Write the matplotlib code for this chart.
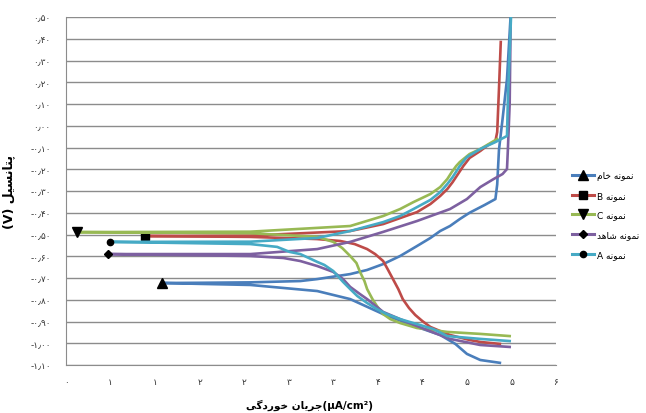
import matplotlib
matplotlib.use("Agg")
import matplotlib.pyplot as plt
from matplotlib.lines import Line2D

# --- data ---
series_names = ["نمونه خام", "نمونه B", "نمونه C", "نمونه شاهد", "نمونه A"]
series_colors = ["#4A7EBB", "#BE4B48", "#98B954", "#7D60A0", "#46AAC5"]
series_markers = ["^", "s", "v", "D", "o"]
marker_sizes = [7, 5.5, 7, 4.5, 4.5]

# each curve: cathodic end (bottom right) -> corrosion point (marker) -> anodic end
raw_x = [4.87, 4.65, 4.50, 4.37, 4.20, 3.94, 3.56, 3.19, 2.82, 2.07, 1.50, 1.08,
         1.50, 2.07, 2.63, 2.82, 3.19, 3.38, 3.56, 3.75, 3.94, 4.09, 4.20, 4.31, 4.42, 4.53,
         4.70, 4.82, 4.84, 4.86, 4.90, 4.95, 4.99]
raw_y = [-1.09, -1.077, -1.049, -1.003, -0.962, -0.925, -0.866, -0.797, -0.76, -0.732, -0.727, -0.723,
         -0.722, -0.72, -0.714, -0.705, -0.682, -0.663, -0.636, -0.599, -0.553, -0.516, -0.484, -0.461,
         -0.429, -0.40, -0.364, -0.337, -0.27, -0.11, 0.03, 0.215, 0.50]

b_x = [4.87, 4.65, 4.53, 4.31, 4.20, 4.09, 4.00, 3.92, 3.85, 3.78, 3.73, 3.67, 3.61, 3.56, 3.47,
       3.38, 3.24, 3.08, 2.82, 2.07, 0.887,
       2.07, 3.19, 3.56, 3.94, 4.09, 4.20, 4.28, 4.34, 4.40, 4.46, 4.53, 4.65, 4.74, 4.82,
       4.84, 4.86, 4.88]
b_y = [-1.003, -0.994, -0.985, -0.962, -0.944, -0.925, -0.898, -0.87, -0.838, -0.797, -0.751, -0.705,
       -0.659, -0.622, -0.590, -0.567, -0.544, -0.530, -0.521, -0.511, -0.507,
       -0.505, -0.484, -0.452, -0.397, -0.360, -0.323, -0.291, -0.259, -0.222, -0.185, -0.148,
       -0.116, -0.088, -0.07, -0.029, 0.17, 0.385]

c_x = [4.98, 4.65, 4.28, 3.94, 3.75, 3.64, 3.56, 3.49, 3.44, 3.38, 3.35, 3.30, 3.26, 3.19, 3.10,
       3.00, 2.82, 2.07, 0.123,
       2.07, 3.19, 3.56, 3.75, 3.90, 4.09, 4.20, 4.28, 4.33, 4.38, 4.42, 4.53, 4.65, 4.84]
c_y = [-0.967, -0.957, -0.948, -0.93, -0.907, -0.889, -0.866, -0.829, -0.797, -0.751, -0.714,
       -0.672, -0.631, -0.599, -0.562, -0.534, -0.511, -0.494, -0.489,
       -0.487, -0.461, -0.415, -0.383, -0.351, -0.314, -0.282, -0.245, -0.213, -0.185, -0.167,
       -0.130, -0.107, -0.061]

ref_x = [4.98, 4.65, 4.31, 3.94, 3.75, 3.56, 3.38, 3.30, 3.19, 3.11, 3.00, 2.82, 2.63, 2.44,
         2.07, 0.471,
         2.07, 2.82, 3.19, 3.56, 3.94, 4.31, 4.50, 4.65, 4.80, 4.90, 4.95, 4.96, 4.98, 4.99]
ref_y = [-1.017, -1.008, -0.98, -0.921, -0.889, -0.856, -0.797, -0.774, -0.741, -0.705, -0.672,
         -0.645, -0.622, -0.608, -0.599, -0.590,
         -0.59, -0.567, -0.534, -0.488, -0.438, -0.383, -0.337, -0.282, -0.245, -0.222, -0.199,
         -0.107, 0.10, 0.45]

a_x = [4.98, 4.65, 4.28, 4.12, 3.94, 3.75, 3.60, 3.49, 3.38, 3.27, 3.19, 3.11, 3.00, 2.90, 2.82,
       2.63, 2.51, 2.37, 2.07, 0.494,
       2.07, 2.82, 3.19, 3.56, 3.75, 3.90, 4.09, 4.20, 4.28, 4.34, 4.42, 4.50, 4.65, 4.82,
       4.95, 4.96, 4.995]
a_y = [-0.99, -0.98, -0.967, -0.934, -0.912, -0.889, -0.866, -0.843, -0.815, -0.783, -0.751,
       -0.718, -0.668, -0.640, -0.626, -0.59, -0.58, -0.557, -0.544, -0.534,
       -0.533, -0.516, -0.484, -0.443, -0.415, -0.383, -0.341, -0.305, -0.268, -0.236, -0.185,
       -0.144, -0.107, -0.075, -0.047, 0.123, 0.50]

all_x = [raw_x, b_x, c_x, ref_x, a_x]
all_y = [raw_y, b_y, c_y, ref_y, a_y]

x_ticks = [0, 0.5, 1, 1.5, 2, 2.5, 3, 3.5, 4, 4.5, 5, 5.5]
x_tick_labels = ["۰", "۱", "۱", "۲", "۲", "۳", "۳", "۴", "۴", "۵", "۵", "۶"]
y_ticks = [0.5, 0.4, 0.3, 0.2, 0.1, 0.0, -0.1, -0.2, -0.3, -0.4, -0.5, -0.6, -0.7, -0.8, -0.9, -1.0, -1.1]


# --- tiny Persian shaper (matplotlib has no RTL / joining support) ---
FORMS = {  # isolated, final, initial, medial
    "ا": ("\uFE8D", "\uFE8E", None, None),
    "پ": ("\uFB56", "\uFB57", "\uFB58", "\uFB59"),
    "ت": ("\uFE95", "\uFE96", "\uFE97", "\uFE98"),
    "ج": ("\uFE9D", "\uFE9E", "\uFE9F", "\uFEA0"),
    "خ": ("\uFEA5", "\uFEA6", "\uFEA7", "\uFEA8"),
    "د": ("\uFEA9", "\uFEAA", None, None),
    "ر": ("\uFEAD", "\uFEAE", None, None),
    "س": ("\uFEB1", "\uFEB2", "\uFEB3", "\uFEB4"),
    "ش": ("\uFEB5", "\uFEB6", "\uFEB7", "\uFEB8"),
    "گ": ("\uFB92", "\uFB93", "\uFB94", "\uFB95"),
    "ل": ("\uFEDD", "\uFEDE", "\uFEDF", "\uFEE0"),
    "م": ("\uFEE1", "\uFEE2", "\uFEE3", "\uFEE4"),
    "ن": ("\uFEE5", "\uFEE6", "\uFEE7", "\uFEE8"),
    "ه": ("\uFEE9", "\uFEEA", "\uFEEB", "\uFEEC"),
    "و": ("\uFEED", "\uFEEE", None, None),
    "ی": ("\uFBFC", "\uFBFD", "\uFBFE", "\uFBFF"),
}


def shape(s):
    out = []
    for i, ch in enumerate(s):
        if ch not in FORMS:
            out.append(ch)
            continue
        prev = s[i - 1] if i > 0 else ""
        nxt = s[i + 1] if i + 1 < len(s) else ""
        join_prev = prev in FORMS and FORMS[prev][2] is not None
        join_next = nxt in FORMS and FORMS[ch][2] is not None
        iso, fin, ini, med = FORMS[ch]
        if join_prev and join_next:
            out.append(med)
        elif join_prev:
            out.append(fin)
        elif join_next:
            out.append(ini)
        else:
            out.append(iso)
    return "".join(out)


def rtl(s):
    shaped = shape(s)
    runs, cur, cur_ltr = [], "", None
    for ch in shaped:
        ltr = ch.isascii() and ch != " "
        if cur and ltr != cur_ltr:
            runs.append((cur, cur_ltr))
            cur = ""
        cur += ch
        cur_ltr = ltr
    if cur:
        runs.append((cur, cur_ltr))
    return "".join(r if l else r[::-1] for r, l in reversed(runs))


def fa_num(v):
    digits = str.maketrans("0123456789.", "۰۱۲۳۴۵۶۷۸۹٫")
    s = f"{abs(v):.2f}".translate(digits)
    return "-" + s if v < 0 else s


plt.rcParams["font.family"] = ["DejaVu Sans"]

fig = plt.figure(figsize=(6.46, 4.14), dpi=100)
ax = fig.add_axes([66 / 646, 1 - 366 / 414, 490 / 646, 348 / 414])

for xs, ys, col, mk, ms in zip(all_x, all_y, series_colors, series_markers, marker_sizes):
    m_idx = xs.index(min(xs))
    ax.plot(xs, ys, color=col, lw=1.9, solid_joinstyle="round",
            marker=mk, markevery=[m_idx], markersize=ms,
            markerfacecolor="black", markeredgecolor="black", zorder=3)

ax.set_xlim(0, 5.5)
ax.set_ylim(-1.1, 0.5)
ax.set_xticks(x_ticks)
ax.set_xticklabels(x_tick_labels, fontsize=6.5, color="#333333")
ax.set_yticks(y_ticks)
ax.set_yticklabels([fa_num(v) for v in y_ticks], fontsize=6.5, color="#333333")
ax.tick_params(axis="y", length=0, pad=11)
ax.tick_params(axis="x", length=0, pad=9)
ax.yaxis.grid(True, color="#8C8C8C", lw=1)
ax.set_axisbelow(True)
for side in ["top", "right"]:
    ax.spines[side].set_visible(False)
for side in ["left", "bottom"]:
    ax.spines[side].set_color("#8C8C8C")

ax.set_ylabel("(V) " + rtl("پتانسیل"), fontsize=9, fontweight="bold")
ax.yaxis.set_label_coords(-0.104, 0.5)
fig.text(310 / 646, 1 - 405 / 414, rtl("جریان خوردگی") + "(µA/cm²)",
         fontsize=7.5, fontweight="bold", ha="center", va="center")

handles = [Line2D([0], [0], color=c, lw=2.2, marker=m, markersize=s,
                  markerfacecolor="black", markeredgecolor="black")
           for c, m, s in zip(series_colors, series_markers, marker_sizes)]
fig.legend(handles, [rtl(n) for n in series_names], loc="center left",
           bbox_to_anchor=(564 / 646, 1 - 216 / 414), frameon=False, fontsize=6.5,
           handlelength=2.4, handletextpad=0.4, labelspacing=1.2, numpoints=1)

fig.savefig("out.png", dpi=100)
